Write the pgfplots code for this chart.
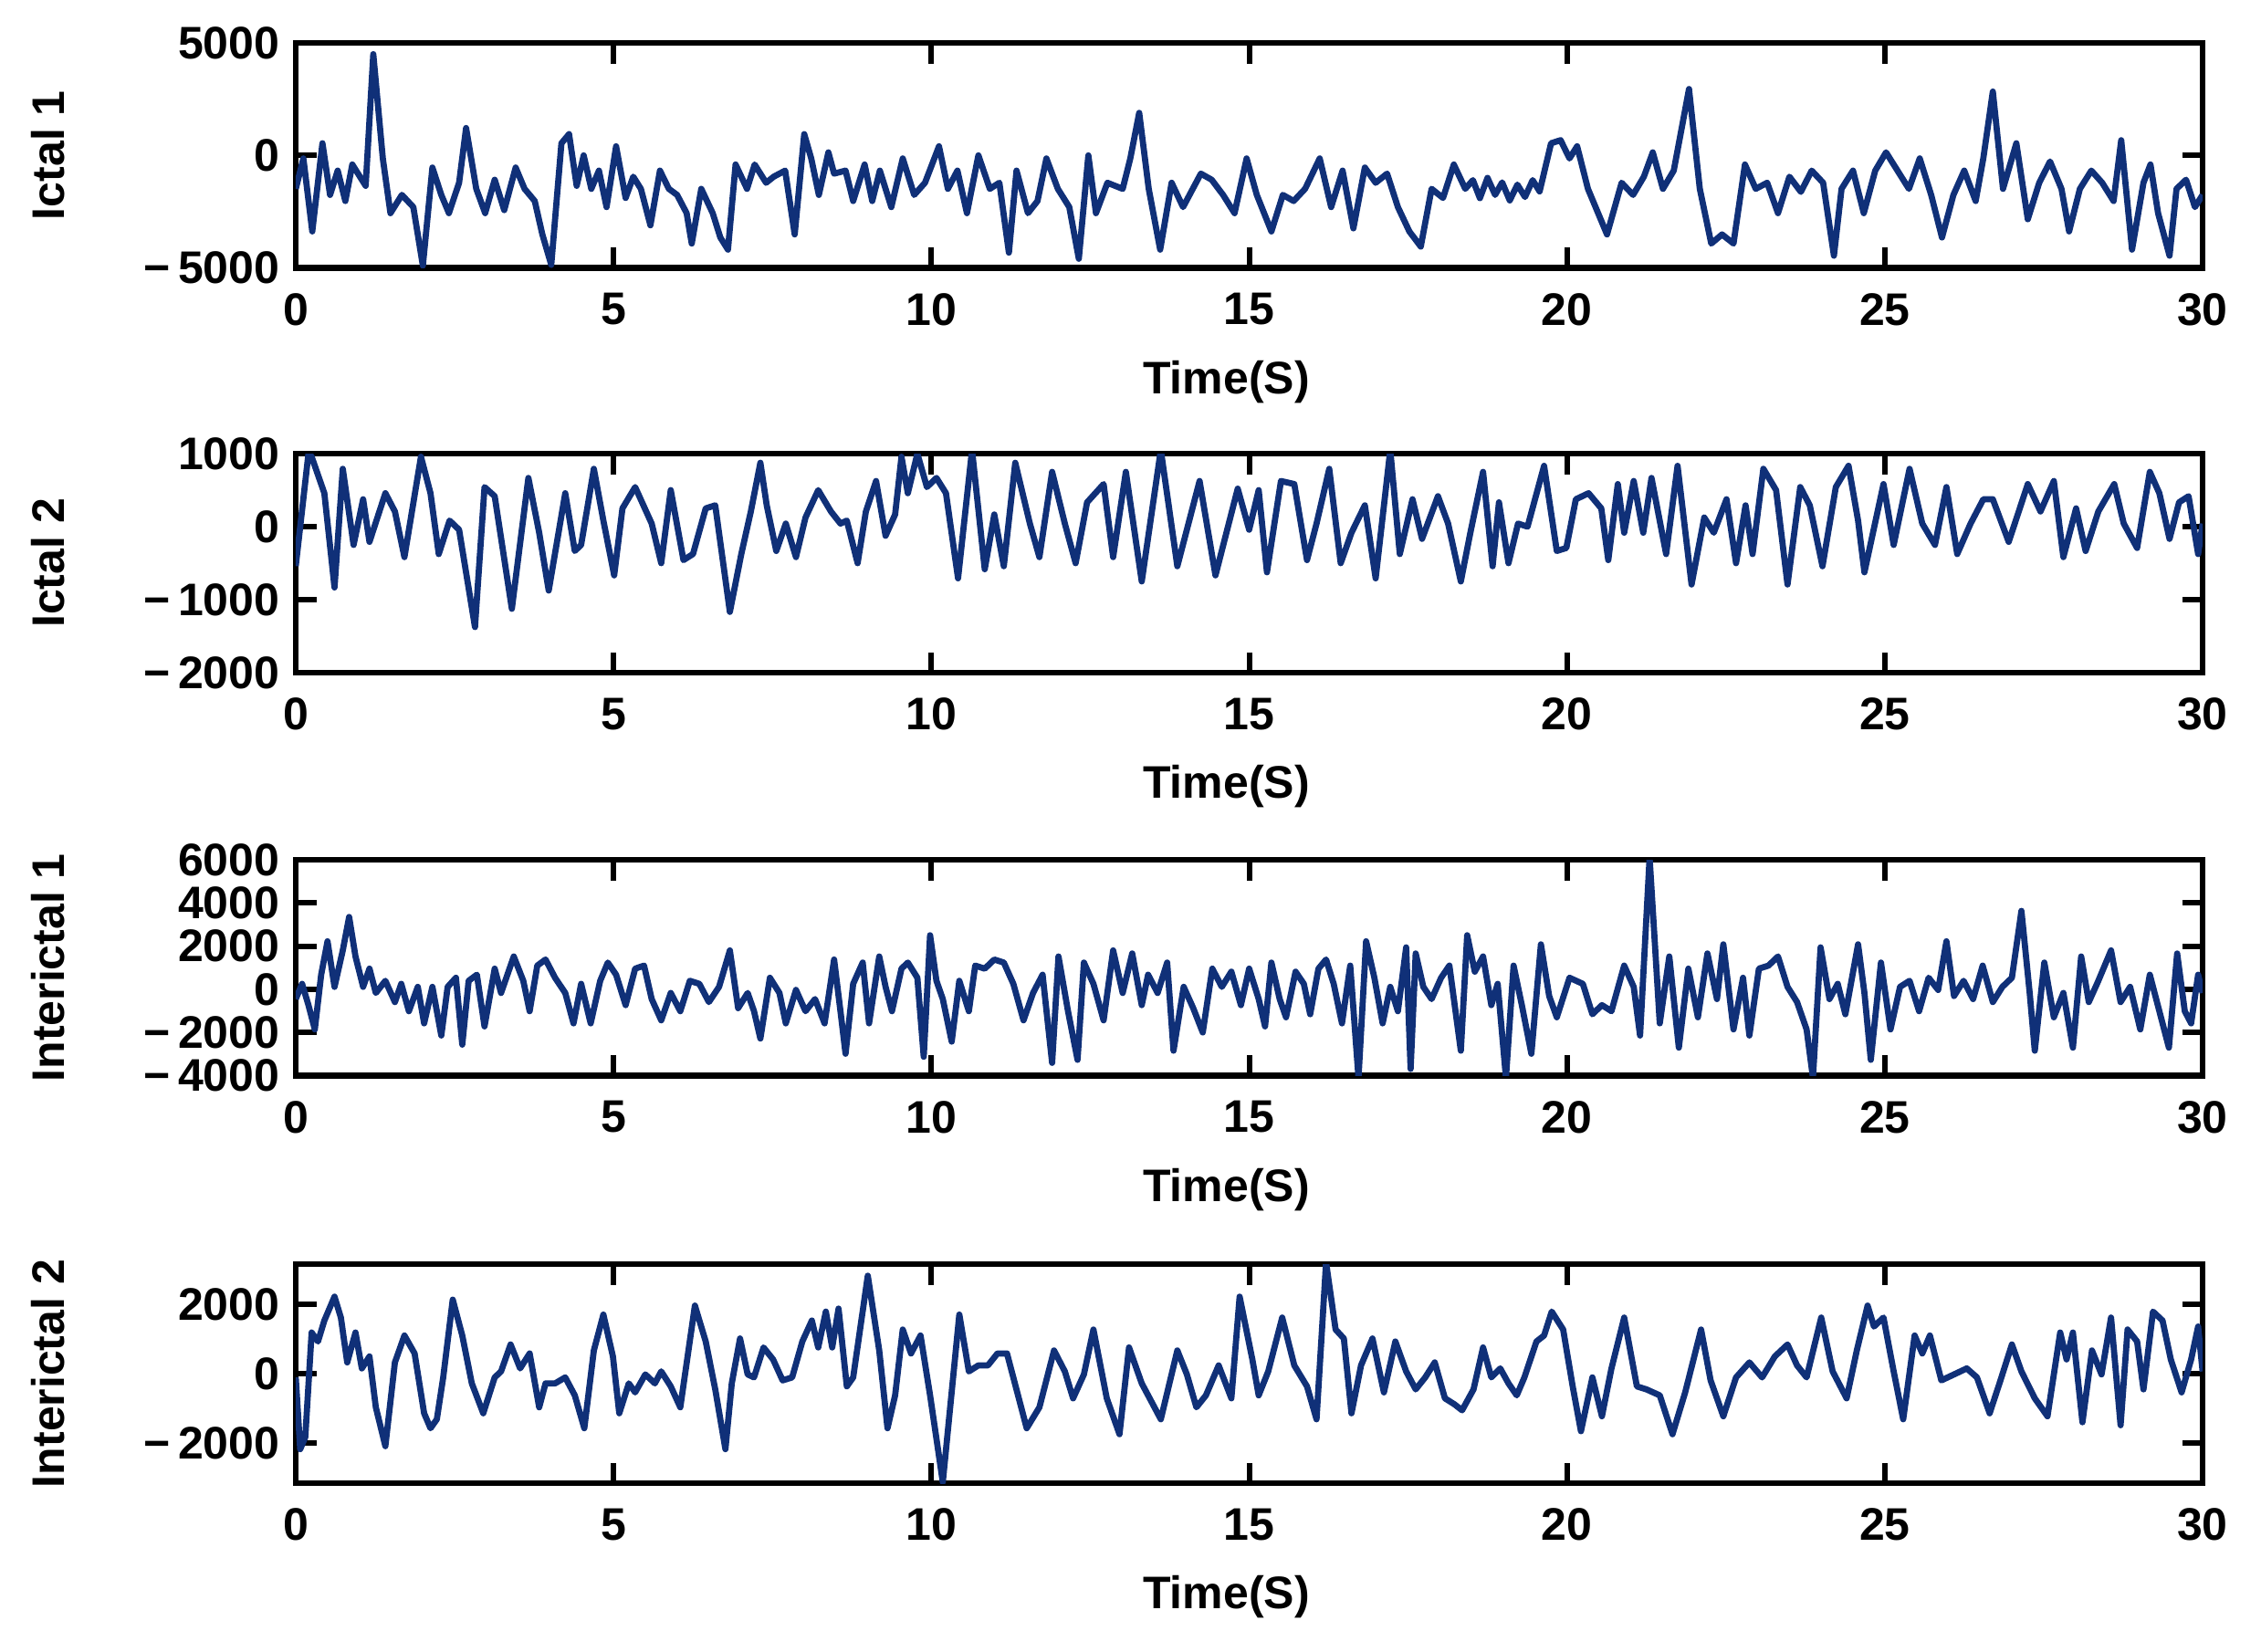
\documentclass[border=0pt]{standalone}
\usepackage{fontspec}
\setmainfont{Liberation Sans}
\usepackage{pgfplots}
\pgfplotsset{compat=1.18}
\definecolor{eeg}{RGB}{16,48,120}
\pgfplotsset{eegax/.style={
  scale only axis, width=417.8pt,
  xmin=0, xmax=30, xtick={0,5,...,30},
  tick align=inside, major tick length=4.5pt,
  axis line style={line width=1.3pt},
  every tick/.style={black, line width=1.2pt},
  ticklabel style={font=\bfseries\fontsize{10}{12}\selectfont},
  label style={font=\bfseries\fontsize{10}{12}\selectfont},
  /pgf/number format/assume math mode=true,
  xlabel={Time(S)},
  xlabel style={at={(axis description cs:0.5,0)}, anchor=center, yshift=-25pt, xshift=-5pt},
  ylabel style={at={(axis description cs:-0.13,0.5)}, anchor=center},
  xticklabel style={yshift=-2pt},
}}
\pgfplotsset{eegline/.style={eeg, line width=1.35pt, line join=round, mark=none}}
\begin{document}
\begin{tikzpicture}
\path[use as bounding box] (0,0) rectangle (495.4pt,-361.8pt);
% ---------------- Ictal 1
\begin{axis}[eegax, at={(64.8pt,-9.4pt)}, anchor=north west, height=49.3pt,
  ymin=-5000, ymax=5000, ytick={-5000,0,5000}, yticklabels={−\,5000,0,5000}, ylabel={Ictal 1}]
\addplot[eegline] coordinates {(0,-1486)(0.12,-135)(0.26,-3378)(0.42,540)(0.54,-1756)(0.66,-676)(0.78,-2027)(0.89,-405)(1.01,-946)(1.10,-1351)(1.22,4500)(1.37,-135)(1.49,-2567)(1.67,-1756)(1.85,-2297)(2.00,-4900)(2.15,-540)(2.29,-1756)(2.41,-2567)(2.57,-1216)(2.68,1216)(2.84,-1486)(2.98,-2567)(3.13,-1081)(3.28,-2432)(3.46,-540)(3.60,-1486)(3.76,-2027)(3.88,-3513)(4.02,-4864)(4.18,540)(4.30,946)(4.42,-1351)(4.53,0)(4.65,-1486)(4.77,-676)(4.89,-2297)(5.04,405)(5.19,-1891)(5.31,-946)(5.43,-1486)(5.58,-3107)(5.73,-676)(5.87,-1486)(6.00,-1756)(6.15,-2567)(6.23,-3918)(6.38,-1486)(6.56,-2567)(6.68,-3648)(6.80,-4188)(6.92,-405)(7.10,-1486)(7.22,-405)(7.40,-1216)(7.52,-946)(7.70,-676)(7.85,-3513)(8.00,946)(8.11,-135)(8.23,-1756)(8.38,135)(8.47,-811)(8.65,-676)(8.77,-2027)(8.95,-405)(9.07,-2027)(9.19,-676)(9.37,-2297)(9.55,-135)(9.73,-1756)(9.90,-1216)(10.12,405)(10.26,-1486)(10.41,-676)(10.56,-2567)(10.74,0)(10.92,-1486)(11.07,-1216)(11.22,-4323)(11.34,-676)(11.52,-2567)(11.67,-2027)(11.81,-135)(11.99,-1486)(12.17,-2297)(12.32,-4593)(12.47,0)(12.59,-2567)(12.77,-1216)(13.01,-1486)(13.13,-135)(13.27,1891)(13.42,-1486)(13.60,-4188)(13.78,-1216)(13.96,-2297)(14.24,-811)(14.41,-1081)(14.59,-1756)(14.77,-2567)(14.96,-135)(15.12,-1756)(15.35,-3378)(15.53,-1756)(15.70,-2027)(15.88,-1486)(16.11,-135)(16.29,-2297)(16.47,-676)(16.64,-3242)(16.82,-540)(16.99,-1216)(17.17,-811)(17.34,-2297)(17.52,-3378)(17.70,-4053)(17.87,-1486)(18.05,-1891)(18.22,-405)(18.40,-1486)(18.52,-1100)(18.63,-1900)(18.75,-1000)(18.87,-1756)(18.98,-1200)(19.10,-2000)(19.22,-1300)(19.34,-1850)(19.46,-1100)(19.57,-1600)(19.75,540)(19.90,676)(20.04,-135)(20.16,405)(20.33,-1486)(20.63,-3513)(20.86,-1216)(21.04,-1756)(21.21,-946)(21.35,135)(21.51,-1486)(21.68,-676)(21.92,2950)(22.09,-1486)(22.27,-3918)(22.44,-3513)(22.62,-3918)(22.80,-405)(22.97,-1486)(23.15,-1216)(23.32,-2567)(23.50,-946)(23.68,-1621)(23.85,-676)(24.03,-1216)(24.20,-4458)(24.32,-1486)(24.50,-676)(24.67,-2567)(24.85,-676)(25.02,135)(25.20,-676)(25.38,-1486)(25.55,-135)(25.73,-1756)(25.90,-3648)(26.08,-1756)(26.25,-676)(26.43,-2027)(26.55,-135)(26.70,2837)(26.86,-1486)(27.07,540)(27.25,-2837)(27.43,-1216)(27.60,-270)(27.78,-1486)(27.90,-3378)(28.07,-1486)(28.25,-676)(28.42,-1216)(28.60,-2027)(28.72,676)(28.89,-4188)(29.07,-1216)(29.18,-405)(29.30,-2567)(29.48,-4458)(29.59,-1486)(29.74,-1081)(29.88,-2297)(30.00,-1756)};
\end{axis}
% ---------------- Ictal 2
\begin{axis}[eegax, at={(64.8pt,-99.4pt)}, anchor=north west, height=48pt,
  ymin=-2000, ymax=1000, ytick={-2000,-1000,0,1000}, yticklabels={−\,2000,−\,1000,0,1000}, ylabel={Ictal 2}]
\addplot[eegline] coordinates {(0,-540)(0.20,1000)(0.25,958)(0.45,458)(0.61,-833)(0.74,792)(0.91,-250)(1.06,375)(1.16,-208)(1.41,458)(1.56,208)(1.71,-417)(1.97,958)(2.12,458)(2.25,-375)(2.42,83)(2.57,-42)(2.82,-1375)(2.97,542)(3.13,417)(3.40,-1125)(3.66,667)(3.83,-83)(3.98,-875)(4.24,458)(4.39,-333)(4.49,-250)(4.69,792)(4.84,83)(5.01,-667)(5.14,250)(5.34,542)(5.60,42)(5.75,-500)(5.90,500)(6.10,-458)(6.25,-375)(6.45,250)(6.60,292)(6.83,-1167)(7.01,-375)(7.16,208)(7.31,875)(7.41,292)(7.56,-333)(7.71,42)(7.87,-417)(8.02,125)(8.22,500)(8.42,208)(8.57,42)(8.67,83)(8.84,-500)(8.97,208)(9.13,625)(9.28,-125)(9.43,167)(9.53,958)(9.63,458)(9.78,1000)(9.93,542)(10.08,667)(10.23,458)(10.42,-708)(10.64,1050)(10.84,-583)(10.99,167)(11.14,-542)(11.32,875)(11.55,42)(11.70,-417)(11.90,750)(12.10,42)(12.27,-500)(12.45,333)(12.71,583)(12.86,-417)(13.06,750)(13.31,-750)(13.61,1050)(13.87,-542)(14.22,625)(14.47,-667)(14.82,520)(15.00,-42)(15.15,500)(15.28,-625)(15.50,625)(15.71,583)(15.91,-458)(16.06,42)(16.26,792)(16.44,-500)(16.61,-83)(16.82,292)(16.99,-708)(17.22,1050)(17.37,-375)(17.57,375)(17.72,-167)(17.97,417)(18.13,42)(18.33,-750)(18.48,-83)(18.68,750)(18.83,-542)(18.93,333)(19.08,-500)(19.23,42)(19.38,0)(19.64,833)(19.84,-333)(19.99,-292)(20.14,375)(20.34,458)(20.54,250)(20.65,-458)(20.80,583)(20.90,-83)(21.05,625)(21.20,-83)(21.33,667)(21.56,-375)(21.74,833)(21.96,-792)(22.16,125)(22.31,-83)(22.51,375)(22.66,-500)(22.81,292)(22.92,-375)(23.09,792)(23.29,500)(23.47,-792)(23.67,542)(23.82,292)(24.02,-542)(24.23,542)(24.43,833)(24.58,83)(24.68,-625)(24.98,583)(25.14,-250)(25.39,792)(25.59,42)(25.79,-250)(25.97,542)(26.14,-375)(26.35,42)(26.55,375)(26.70,375)(26.95,-208)(27.25,583)(27.45,208)(27.66,625)(27.81,-417)(28.01,250)(28.16,-333)(28.36,208)(28.61,583)(28.76,42)(28.97,-292)(29.17,750)(29.32,458)(29.48,-167)(29.63,333)(29.78,417)(29.93,-375)(30.00,42)};
\end{axis}
% ---------------- Interictal 1
\begin{axis}[eegax, at={(64.8pt,-188.4pt)}, anchor=north west, height=47.3pt,
  ymin=-4000, ymax=6000, ytick={-4000,-2000,0,2000,4000,6000}, yticklabels={−\,4000,−\,2000,0,2000,4000,6000}, ylabel={Interictal 1}]
\addplot[eegline] coordinates {(0.00,-451)(0.10,253)(0.20,-732)(0.30,-1858)(0.40,676)(0.50,2225)(0.61,113)(0.74,1802)(0.84,3351)(0.94,1521)(1.06,113)(1.16,957)(1.26,-169)(1.41,394)(1.56,-591)(1.66,253)(1.78,-1014)(1.92,113)(2.02,-1577)(2.15,113)(2.29,-2140)(2.39,113)(2.52,535)(2.62,-2563)(2.72,394)(2.85,676)(2.97,-1718)(3.13,957)(3.23,-169)(3.43,1521)(3.58,394)(3.68,-1014)(3.80,1098)(3.93,1380)(4.08,535)(4.24,-169)(4.37,-1577)(4.49,253)(4.64,-1577)(4.79,394)(4.91,1239)(5.04,676)(5.19,-732)(5.34,957)(5.48,1098)(5.60,-451)(5.75,-1436)(5.90,-169)(6.05,-1014)(6.20,394)(6.35,253)(6.50,-591)(6.66,113)(6.83,1802)(6.96,-873)(7.11,-169)(7.21,-1014)(7.31,-2281)(7.46,535)(7.61,-169)(7.71,-1577)(7.87,-28)(8.02,-1014)(8.17,-451)(8.32,-1577)(8.47,1380)(8.57,-1014)(8.65,-2985)(8.77,253)(8.92,1239)(9.02,-1577)(9.18,1521)(9.28,113)(9.38,-1014)(9.53,957)(9.63,1239)(9.78,535)(9.88,-3126)(9.98,2506)(10.08,394)(10.18,-451)(10.32,-2422)(10.44,394)(10.59,-1014)(10.69,1098)(10.84,957)(10.99,1380)(11.14,1239)(11.29,253)(11.45,-1436)(11.60,-169)(11.75,676)(11.90,-3407)(12.00,1521)(12.15,-1014)(12.30,-3267)(12.40,1239)(12.55,253)(12.71,-1436)(12.86,1802)(13.01,-169)(13.16,1661)(13.31,-732)(13.41,676)(13.56,-169)(13.71,1239)(13.81,-2844)(13.97,113)(14.12,-873)(14.27,-1999)(14.42,957)(14.57,113)(14.72,817)(14.87,-732)(15.00,957)(15.15,-451)(15.25,-1718)(15.35,1239)(15.48,-451)(15.58,-1295)(15.73,817)(15.86,253)(15.96,-1155)(16.09,957)(16.21,1380)(16.33,253)(16.46,-1577)(16.59,1098)(16.72,-4100)(16.84,2225)(16.97,535)(17.10,-1577)(17.22,113)(17.34,-1014)(17.47,1943)(17.54,-3689)(17.62,1661)(17.74,113)(17.87,-451)(18.02,535)(18.15,1098)(18.33,-2844)(18.43,2506)(18.55,817)(18.68,1521)(18.81,-732)(18.91,253)(19.04,-4100)(19.16,1098)(19.29,-732)(19.44,-2985)(19.59,2084)(19.72,-310)(19.84,-1295)(20.04,535)(20.25,253)(20.40,-1155)(20.55,-732)(20.70,-1014)(20.90,1098)(21.05,113)(21.15,-2140)(21.30,6100)(21.46,-1577)(21.61,1521)(21.76,-2703)(21.91,957)(22.06,-1295)(22.21,1661)(22.36,-451)(22.46,2084)(22.62,-1858)(22.77,535)(22.87,-2140)(23.02,957)(23.17,1098)(23.32,1521)(23.47,113)(23.62,-591)(23.77,-1858)(23.87,-4100)(23.99,1943)(24.13,-451)(24.26,253)(24.38,-1155)(24.58,2084)(24.68,-169)(24.78,-3267)(24.94,1239)(25.09,-1858)(25.24,113)(25.39,394)(25.54,-1014)(25.69,535)(25.84,-28)(25.97,2225)(26.09,-310)(26.24,394)(26.39,-451)(26.54,1098)(26.70,-591)(26.85,113)(27.00,535)(27.15,3633)(27.28,-169)(27.36,-2844)(27.51,1239)(27.66,-1295)(27.81,-169)(27.96,-2703)(28.09,1521)(28.21,-591)(28.36,394)(28.56,1802)(28.71,-591)(28.86,113)(29.02,-1858)(29.17,676)(29.32,-1014)(29.47,-2703)(29.60,1661)(29.72,-1014)(29.82,-1577)(29.93,676)(30.00,-169)};
\end{axis}
% ---------------- Interictal 2
\begin{axis}[eegax, at={(64.8pt,-277pt)}, anchor=north west, height=48pt,
  ymin=-3150, ymax=3150, ytick={-2000,0,2000}, yticklabels={−\,2000,0,2000}, ylabel={Interictal 2}]
\addplot[eegline] coordinates {(0.00,-107)(0.07,-2172)(0.15,-1828)(0.25,1183)(0.35,925)(0.45,1527)(0.61,2215)(0.71,1613)(0.81,323)(0.94,1183)(1.04,151)(1.16,495)(1.26,-968)(1.41,-2086)(1.56,323)(1.71,1097)(1.87,581)(2.02,-1140)(2.12,-1570)(2.22,-1312)(2.32,-108)(2.47,2129)(2.62,1097)(2.77,-280)(2.95,-1140)(3.13,-108)(3.23,64)(3.38,839)(3.53,151)(3.68,581)(3.83,-968)(3.93,-280)(4.08,-280)(4.24,-108)(4.39,-624)(4.54,-1570)(4.69,667)(4.84,1699)(4.99,495)(5.09,-1140)(5.24,-280)(5.34,-538)(5.50,-22)(5.65,-280)(5.75,64)(5.90,-366)(6.05,-968)(6.28,1957)(6.45,925)(6.60,-452)(6.76,-2172)(6.86,-280)(6.99,1011)(7.11,-22)(7.21,-108)(7.36,753)(7.51,409)(7.66,-194)(7.81,-108)(7.97,925)(8.12,1527)(8.22,753)(8.34,1785)(8.44,753)(8.54,1871)(8.67,-366)(8.77,-108)(9.00,2817)(9.18,667)(9.31,-1570)(9.43,-624)(9.55,1269)(9.68,581)(9.83,1097)(9.98,-624)(10.18,-3118)(10.44,1699)(10.59,64)(10.74,237)(10.89,237)(11.04,581)(11.19,581)(11.50,-1570)(11.70,-968)(11.93,667)(12.10,64)(12.23,-710)(12.40,-22)(12.55,1269)(12.76,-710)(12.96,-1742)(13.11,753)(13.31,-280)(13.61,-1312)(13.87,667)(14.02,-22)(14.17,-968)(14.32,-624)(14.52,237)(14.72,-710)(14.85,2215)(15.05,411)(15.15,-624)(15.30,64)(15.52,1613)(15.71,237)(15.91,-366)(16.06,-1312)(16.21,3200)(16.36,1269)(16.49,1011)(16.61,-1140)(16.76,237)(16.94,1011)(17.12,-538)(17.30,925)(17.47,64)(17.62,-452)(17.77,-108)(17.92,323)(18.08,-710)(18.23,-882)(18.35,-1054)(18.53,-452)(18.68,753)(18.81,-108)(18.95,151)(19.08,-280)(19.21,-624)(19.33,-108)(19.52,925)(19.64,1097)(19.76,1785)(19.94,1269)(20.09,-366)(20.22,-1656)(20.40,-108)(20.55,-1226)(20.70,151)(20.90,1613)(21.10,-366)(21.25,-452)(21.46,-624)(21.66,-1742)(21.86,-538)(22.11,1269)(22.26,-194)(22.46,-1226)(22.66,-108)(22.87,323)(23.07,-108)(23.27,495)(23.47,839)(23.62,237)(23.77,-108)(24.00,1613)(24.18,64)(24.40,-710)(24.56,667)(24.73,1957)(24.83,1355)(24.98,1613)(25.14,64)(25.29,-1312)(25.47,1097)(25.59,581)(25.71,1097)(25.89,-194)(26.09,-22)(26.29,151)(26.45,-108)(26.65,-1140)(26.82,-194)(27.00,839)(27.15,64)(27.36,-710)(27.56,-1226)(27.76,1183)(27.86,409)(27.96,1183)(28.11,-1398)(28.26,667)(28.41,-22)(28.56,1613)(28.71,-1484)(28.82,1269)(28.97,925)(29.07,-452)(29.22,1785)(29.37,1527)(29.50,409)(29.67,-538)(29.82,409)(29.93,1355)(30.00,64)};
\end{axis}
\end{tikzpicture}
\end{document}
